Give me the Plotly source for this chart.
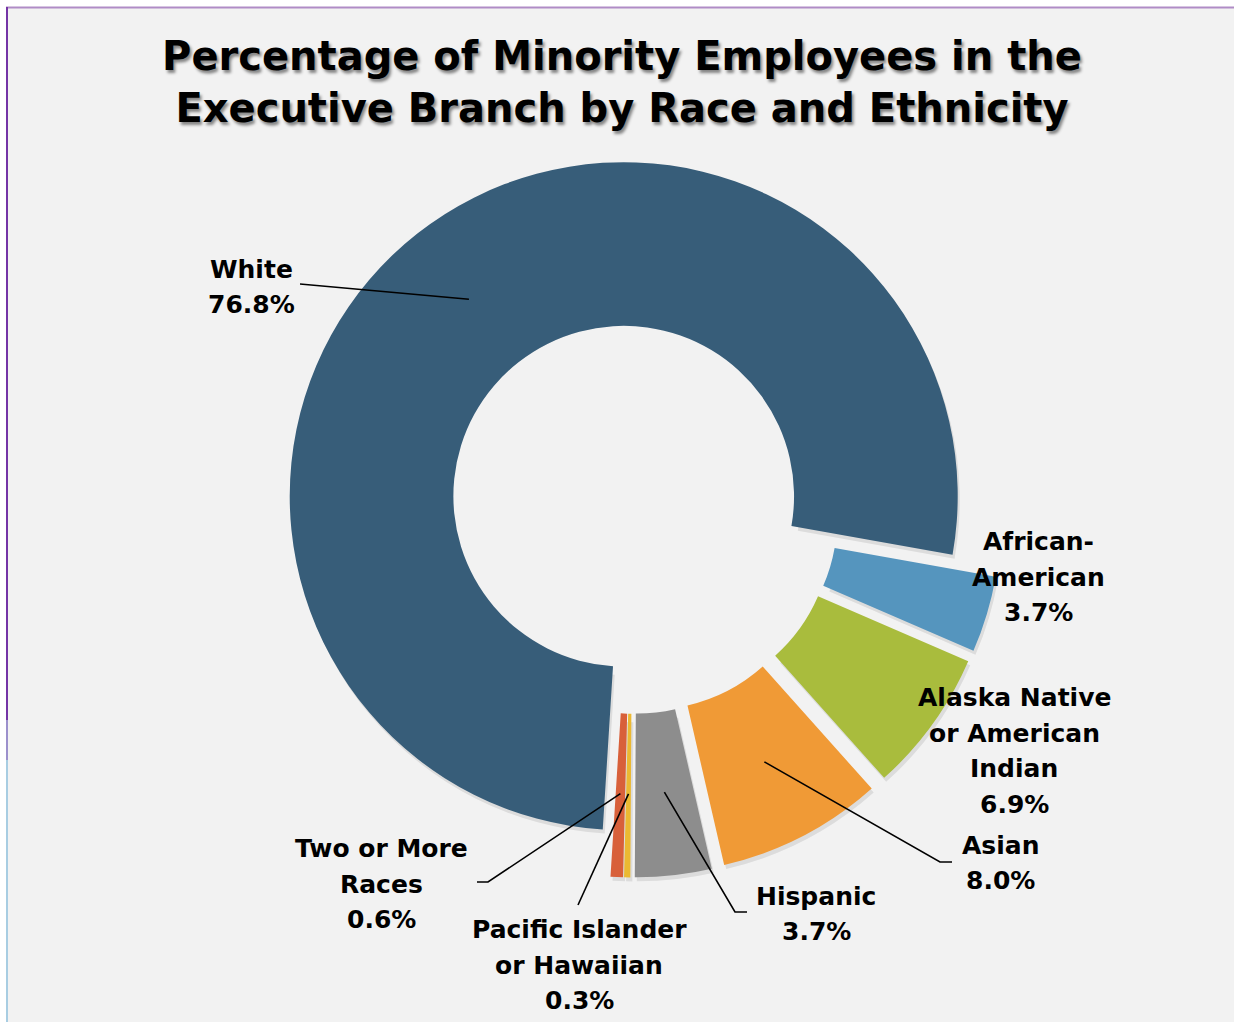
import math
import plotly.graph_objects as go

# ---- data -------------------------------------------------------------
groups = ["White", "African-American", "Alaska Native or American Indian",
          "Asian", "Hispanic", "Pacific Islander or Hawaiian", "Two or More Races"]
shares = [76.8, 3.7, 6.9, 8.0, 3.7, 0.3, 0.6]
label_lines = ["White", "African-<br>American", "Alaska Native<br>or American<br>Indian",
               "Asian", "Hispanic", "Pacific Islander<br>or Hawaiian", "Two or More<br>Races"]
colors = ["#375D79", "#5595BE", "#A9BC3D", "#F09A36", "#8D8D8D", "#EBB932", "#D8603A"]
pulls = [0.045, 0.106, 0.106, 0.106, 0.106, 0.106, 0.106]

title_text = "Percentage of Minority Employees in the<br>Executive Branch by Race and Ethnicity"

# ---- page geometry (pixels) -------------------------------------------
W, H = 1234, 1022
CX, CY, R = 633, 508, 334        # donut centre and outer radius
HOLE = 0.51
ROTATION = 183.6                  # first slice starts just left of 6 o'clock
LINE_GAP = 35.5                   # spacing between label lines
SHADOW_DX, SHADOW_DY = 2, 4

def px(x):
    return x / W

def py(y):
    return 1 - y / H

max_pull = max(pulls)
half_box = R * (1 + max_pull)

def pie_trace(dx, dy, fill, hole, hover=True):
    return go.Pie(
        labels=groups,
        values=shares,
        sort=False,
        direction="clockwise",
        rotation=ROTATION,
        hole=hole,
        pull=pulls,
        marker=dict(colors=fill, line=dict(width=0)),
        textinfo="none",
        showlegend=False,
        hoverinfo="label+percent" if hover else "skip",
        domain=dict(x=[px(CX + dx - half_box), px(CX + dx + half_box)],
                    y=[py(CY + dy + half_box), py(CY + dy - half_box)]),
    )

fig = go.Figure()
# soft drop shadow under the ring (hole widened so it never shows inside the hole)
shadow_hole = HOLE + math.hypot(SHADOW_DX, SHADOW_DY) / R
fig.add_trace(pie_trace(SHADOW_DX, SHADOW_DY, ["rgba(0,0,0,0.09)"] * len(shares),
                        shadow_hole, hover=False))
fig.add_trace(pie_trace(0, 0, colors, HOLE))

# ---- leader lines from each slice's mid-angle -------------------------
total = sum(shares)
start = ROTATION
mid_angles = []
for v in shares:
    span = 360 * v / total
    mid_angles.append(start + span / 2)
    start += span

def slice_point(i, frac=0.75):
    a = math.radians(mid_angles[i])
    d = (pulls[i] + frac) * R
    return CX + d * math.sin(a), CY - d * math.cos(a)

# label block centres and leader routes (elbow points) in pixels
label_pos = {
    0: (251, 287), 1: (1038, 577), 2: (1014, 751), 3: (1000, 863),
    4: (816, 914), 5: (579, 965), 6: (381, 884),
}
leader_route = {
    0: [(300, 284)],
    3: [(940, 862), (952, 862)],
    4: [(735, 912), (747, 912)],
    5: [(578, 905)],
    6: [(488, 882), (477, 882)],
}

shapes = []
# page frame
shapes.append(dict(type="rect", xref="paper", yref="paper", x0=0, x1=1,
                   y0=py(7), y1=1, fillcolor="white", line_width=0, layer="below"))
shapes.append(dict(type="rect", xref="paper", yref="paper", x0=0, x1=px(6),
                   y0=0, y1=1, fillcolor="white", line_width=0, layer="below"))
shapes.append(dict(type="line", xref="paper", yref="paper", x0=px(6), x1=1,
                   y0=py(7.5), y1=py(7.5), line=dict(color="#B08CC6", width=2)))
shapes.append(dict(type="line", xref="paper", yref="paper", x0=px(7), x1=px(7),
                   y0=py(7), y1=py(720), line=dict(color="#7434A6", width=2)))
shapes.append(dict(type="line", xref="paper", yref="paper", x0=px(7), x1=px(7),
                   y0=py(720), y1=py(760), line=dict(color="#9C90CC", width=2)))
shapes.append(dict(type="line", xref="paper", yref="paper", x0=px(7), x1=px(7),
                   y0=py(760), y1=0, line=dict(color="#A8CDE2", width=2)))

for i, route in leader_route.items():
    pts = [slice_point(i)] + route
    path = "M " + " L ".join(f"{px(x)},{py(y)}" for x, y in pts)
    shapes.append(dict(type="path", xref="paper", yref="paper", path=path,
                       line=dict(color="black", width=1.6)))

# data labels: one annotation per text line for looser line spacing
label_font = dict(family="DejaVu Sans", size=25, color="black", weight=700)
annotations = []
for i, (x, y) in label_pos.items():
    lines = label_lines[i].split("<br>") + [f"{shares[i]:.1f}%"]
    n = len(lines)
    for k, line in enumerate(lines):
        yk = y + (k - (n - 1) / 2) * LINE_GAP
        annotations.append(dict(
            text=line, xref="paper", yref="paper", x=px(x), y=py(yk),
            xanchor="center", yanchor="middle", showarrow=False,
            font=label_font,
        ))

fig.update_layout(
    width=W, height=H,
    margin=dict(l=0, r=0, t=0, b=0),
    paper_bgcolor="#F2F2F2",
    plot_bgcolor="#F2F2F2",
    title=dict(text=title_text, x=px(622), xanchor="center",
               y=py(70), yanchor="middle",
               font=dict(family="DejaVu Sans", size=40, color="black", weight=700,
                         shadow="2px 3px 3px rgba(0,0,0,0.45)")),
    shapes=shapes,
    annotations=annotations,
)

fig.write_html("out.html")
